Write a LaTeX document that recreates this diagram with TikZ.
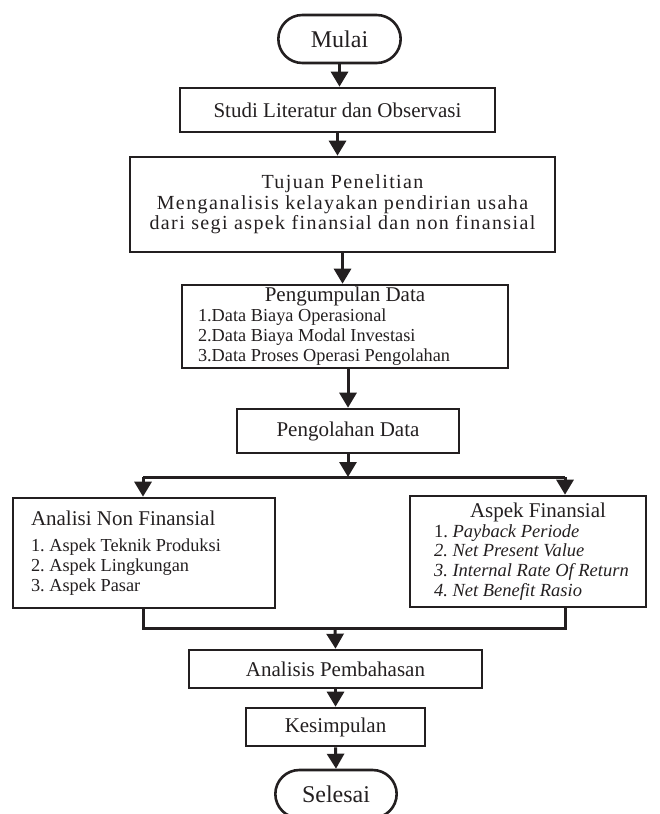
\documentclass[tikz,border=0pt]{standalone}
\usepackage{fontspec}
\setmainfont{Liberation Serif}
\newfontfamily\spacedfont[LetterSpace=7]{Liberation Serif}
\usepackage{xcolor}
\usepackage{tikz}
\usetikzlibrary{arrows.meta,shapes.misc}
\definecolor{ink}{HTML}{231F20}
\newcommand{\itemsize}{\fontsize{18.3}{20}\selectfont}
\frenchspacing
\tikzset{
  box/.style={draw=ink, line width=2.6pt, rectangle, inner sep=0pt, text=ink, font=\fontsize{21}{24}\selectfont},
  term/.style={draw=ink, line width=2.6pt, rounded rectangle, minimum width=129pt, minimum height=48pt, text=ink, font=\fontsize{24}{28}\selectfont},
  arr/.style={draw=ink, line width=3pt, -{Triangle[width=17pt,length=15pt]}},
  conn/.style={draw=ink, line width=3pt}
}

\begin{document}
\begin{tikzpicture}[x=1pt,y=-1pt]
  \useasboundingbox (0,0) rectangle (660,814);

  \node[term] (mulai) at (339.5,39) {Mulai};
  \node[box, minimum width=315pt, minimum height=44pt] (studi) at (337.5,110) {Studi Literatur dan Observasi};
  \node[box, minimum width=425pt, minimum height=95pt, align=center,
        font=\spacedfont\fontsize{20}{20.5}\selectfont] (tujuan) at (342.5,204.5)
        {Tujuan Penelitian\\Menganalisis kelayakan pendirian usaha\\dari segi aspek finansial dan non finansial};
  \node[box, minimum width=326pt, minimum height=83pt, text width=294pt, align=flush left] (kumpul) at (345,326.5)
        {{\centering Pengumpulan Data\par}\itemsize 1.Data Biaya Operasional\\2.Data Biaya Modal Investasi\\3.Data Proses Operasi Pengolahan\par};
  \node[box, minimum width=222pt, minimum height=44pt] (olah) at (348,431) {Pengolahan Data};

  \node[box, minimum width=262pt, minimum height=110pt, text width=226pt, align=flush left] (nonfin) at (144,553)
        {Analisi Non Finansial\\[6pt]\itemsize 1. Aspek Teknik Produksi\\2. Aspek Lingkungan\\3. Aspek Pasar\par};
  \node[box, minimum width=236pt, minimum height=111pt, text width=228pt, align=flush left] (fin) at (528,551.5)
        {{\centering\leftskip=20pt plus 1fil Aspek Finansial\par}\leftskip=20pt\fontsize{18.5}{19.7}\selectfont
         1. \textit{Payback Periode}\\\textit{2. Net Present Value}\\\textit{3. Internal Rate Of Return}\\\textit{4. Net Benefit Rasio}\par};

  \node[box, minimum width=293pt, minimum height=38pt] (bahas) at (335.5,669) {Analisis Pembahasan};
  \node[box, minimum width=179pt, minimum height=38pt] (simpul) at (335.5,727) {Kesimpulan};
  \node[term, minimum width=128pt] (selesai) at (336,794) {Selesai};

  \coordinate (kiri) at (143,477);
  \coordinate (kanan) at (565,477);
  \coordinate (gabung) at (335,628);

  \draw[arr] (mulai.south) -- (mulai.south |- studi.north);
  \draw[arr] (studi.south) -- (studi.south |- tujuan.north);
  \draw[arr] (tujuan.south) -- (tujuan.south |- kumpul.north);
  \draw[arr] (olah.north |- kumpul.south) -- (olah.north);
  \draw[arr] (olah.south) -- (olah.south |- kiri);
  \draw[conn] (kiri) -- (kanan);
  \draw[arr] (kiri) -- (kiri |- nonfin.north);
  \draw[arr] (kanan) -- (kanan |- fin.north);
  \draw[conn] (kiri |- nonfin.south) -- (kiri |- gabung) -- (kanan |- gabung) -- (kanan |- fin.south);
  \draw[arr] (gabung) -- (bahas.north);
  \draw[arr] (bahas.south) -- (simpul.north);
  \draw[arr] (simpul.south) -- (selesai.north);
\end{tikzpicture}
\end{document}
